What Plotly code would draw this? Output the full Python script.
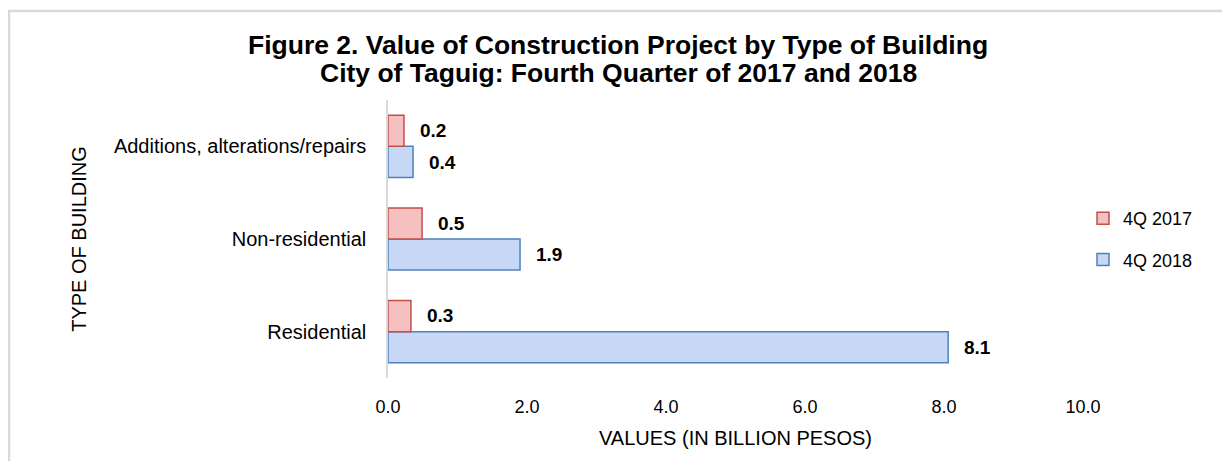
import plotly.graph_objects as go

categories = ["Residential", "Non-residential", "Additions, alterations/repairs"]
values_2017 = [0.33, 0.49, 0.23]
values_2018 = [8.06, 1.90, 0.36]
series_names = ["4Q 2017", "4Q 2018"]
tick_vals = [0, 2, 4, 6, 8, 10]
tick_text = ["0.0", "2.0", "4.0", "6.0", "8.0", "10.0"]
title_lines = ["Figure 2. Value of Construction Project by Type of Building",
               "City of Taguig: Fourth Quarter of 2017 and 2018"]

FONT = "Liberation Sans, Arial, sans-serif"

fig = go.Figure()
fig.add_trace(go.Bar(
    y=categories, x=values_2018, name=series_names[1], orientation="h",
    marker=dict(color="#C6D8F5", line=dict(color="#4F81BD", width=1.5)),
    legendrank=2, legendgroup="b",
))
fig.add_trace(go.Bar(
    y=categories, x=values_2017, name=series_names[0], orientation="h",
    marker=dict(color="#F6C0C0", line=dict(color="#C0504D", width=1.5)),
    legendrank=1, legendgroup="a",
))

annotations = []
for i, c in enumerate(categories):
    annotations.append(dict(x=values_2017[i], y=i + 0.17, xref="x", yref="y",
                            text=f"<b>{values_2017[i]:.1f}</b>", showarrow=False,
                            xanchor="left", xshift=14,
                            font=dict(family=FONT, size=19, color="black")))
    annotations.append(dict(x=values_2018[i], y=i - 0.17, xref="x", yref="y",
                            text=f"<b>{values_2018[i]:.1f}</b>", showarrow=False,
                            xanchor="left", xshift=14,
                            font=dict(family=FONT, size=19, color="black")))

# title lines (figure height 453, plot top at 92 px)
for k, (line, ypx) in enumerate(zip(title_lines, [37, 65])):
    annotations.append(dict(text=f"<b>{line}</b>", xref="paper", yref="paper",
                            x=(610 - 380) / 695, y=(370 - ypx) / 278,
                            xanchor="center", yanchor="middle", showarrow=False,
                            font=dict(family=FONT, size=26.5, color="black")))

fig.update_layout(
    width=1222, height=453,
    margin=dict(l=380, r=147, t=92, b=83),
    paper_bgcolor="white", plot_bgcolor="white",
    barmode="group", bargap=0.33, bargroupgap=0.0,
    font=dict(family=FONT, size=20, color="black"),
    xaxis=dict(
        range=[0, 10], tickvals=tick_vals, ticktext=tick_text,
        showgrid=False, zeroline=False, showline=False, ticks="",
        ticklabelstandoff=16,
        tickfont=dict(family=FONT, size=18, color="black"),
        title=dict(text="VALUES (IN BILLION PESOS)", standoff=14,
                   font=dict(family=FONT, size=20, color="black")),
    ),
    yaxis=dict(
        showgrid=False, zeroline=False, showline=True, linecolor="#D9D9D9", linewidth=1.5,
        ticks="", ticklabelstandoff=16,
        tickfont=dict(family=FONT, size=20, color="black"),
        title=dict(text="TYPE OF BUILDING", standoff=22,
                   font=dict(family=FONT, size=20, color="black")),
    ),
    legend=dict(
        x=1.0, xanchor="left", y=0.5, yanchor="middle",
        font=dict(family=FONT, size=18, color="black"),
        itemwidth=30, tracegroupgap=15, bgcolor="rgba(0,0,0,0)",
    ),
    annotations=annotations,
    shapes=[dict(type="rect", xref="paper", yref="paper",
                 x0=-0.5453, x1=1.4, y0=-0.5, y1=1.320,
                 line=dict(color="#D9D9D9", width=2.5), fillcolor="rgba(0,0,0,0)", layer="below")],
    showlegend=True,
)

fig.write_html("out.html")
